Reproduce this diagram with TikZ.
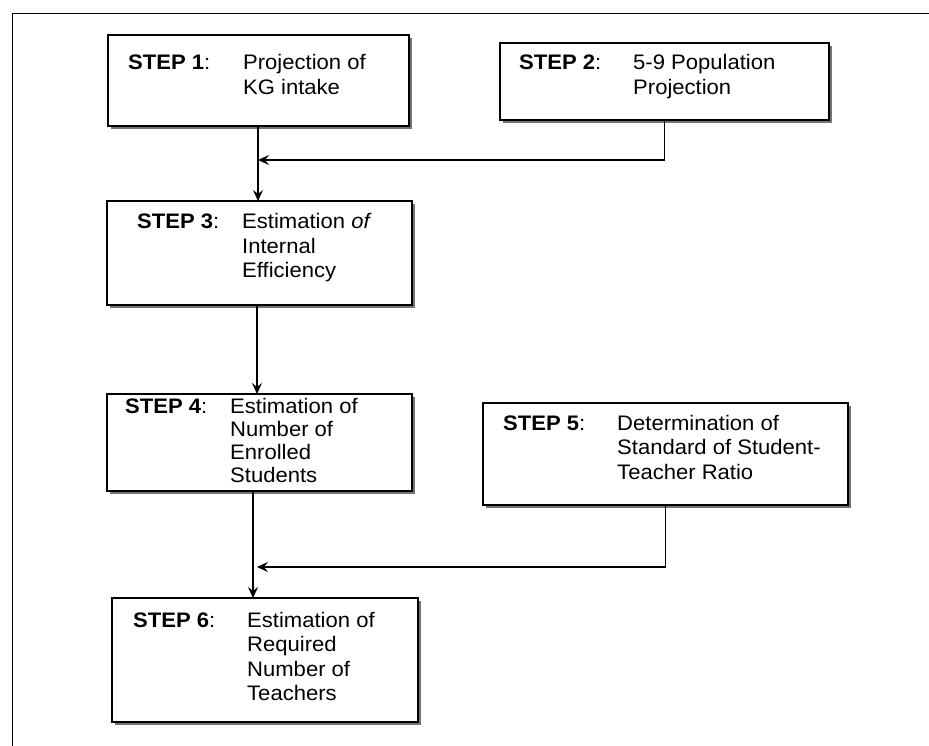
\documentclass[tikz,border=0pt]{standalone}
\usepackage{fontspec}
\setmainfont{Liberation Sans}[FakeStretch=1.05]
\usetikzlibrary{arrows.meta,shadows}

\newcommand{\stepline}[3]{\makebox[#2pt][l]{\textbf{STEP #1}:}\parbox[t]{220pt}{\raggedright #3}}

\tikzset{
  stepbox/.style={draw,line width=1.4pt,fill=white,inner sep=0pt,outer sep=0pt,anchor=north west,
    drop shadow={shadow xshift=3pt,shadow yshift=-3pt,fill=black!55,opacity=1}},
  steptext/.style={anchor=base west,inner sep=0pt,font=\fontsize{21}{24.5}\selectfont},
  flow/.style={line width=1.2pt,-{Stealth[length=11pt,width=10pt,inset=4pt]}},
  link/.style={line width=1.2pt}
}

\begin{document}
\begin{tikzpicture}[x=1pt,y=-1pt]
\useasboundingbox (0,0) rectangle (929,746);
% frame
\draw[line width=1pt] (12,746) -- (12,14) -- (929,14);

% boxes
\node[stepbox,minimum width=301,minimum height=91] (s1) at (108,35) {};
\node[stepbox,minimum width=329,minimum height=77] (s2) at (500,43) {};
\node[stepbox,minimum width=305,minimum height=104] (s3) at (107,201) {};
\node[stepbox,minimum width=305,minimum height=97] (s4) at (107,394) {};
\node[stepbox,minimum width=365,minimum height=102] (s5) at (483,403) {};
\node[stepbox,minimum width=306,minimum height=124] (s6) at (112,598) {};

% texts
\node[steptext] (t1) at ([shift={(20,35)}]s1.north west) {\stepline{1}{115}{Projection of\\KG intake}};
\node[steptext] (t2) at ([shift={(19,27)}]s2.north west) {\stepline{2}{114}{5-9 Population\\Projection}};
\node[steptext] (t3) at ([shift={(30,28)}]s3.north west) {\stepline{3}{105}{Estimation \textit{of}\\Internal\\Efficiency}};
\node[steptext,font=\fontsize{21}{23}\selectfont] (t4) at ([shift={(18,19)}]s4.north west) {\stepline{4}{105}{Estimation of\\Number of\\Enrolled\\Students}};
\node[steptext] (t5) at ([shift={(20,27)}]s5.north west) {\stepline{5}{114}{Determination of\\Standard of Student-\\Teacher Ratio}};
\node[steptext] (t6) at ([shift={(21,29)}]s6.north west) {\stepline{6}{114}{Estimation of\\Required\\Number of\\Teachers}};

% connectors
\coordinate (j1) at (258,160);
\coordinate (j2) at (257,567);
\draw[flow] (s1.south -| j1) -- (s3.north -| j1);
\draw[flow] (s2.south) |- (j1);
\draw[flow] (s3.south -| j2) -- (s4.north -| j2);
\draw[flow] ([xshift=-4pt]s4.south -| j2) -- ([xshift=-4pt]s6.north -| j2);
\draw[flow] (s5.south) |- (j2);
\end{tikzpicture}
\end{document}
